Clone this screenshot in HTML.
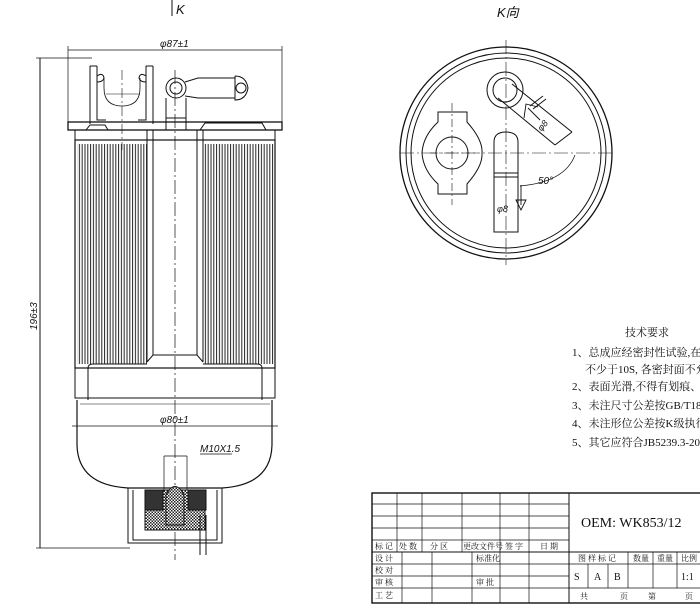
<!DOCTYPE html>
<html><head><meta charset="utf-8"><style>
html,body{margin:0;padding:0;background:#fff;}
svg{display:block;}
text{font-family:"Liberation Serif","Noto Serif CJK SC","Noto Sans CJK SC",serif;fill:#111;}
.i{font-family:"Liberation Sans",sans-serif;font-style:italic;}
</style></head><body>
<svg width="700" height="608" viewBox="0 0 700 608" xmlns="http://www.w3.org/2000/svg">
<defs>
<pattern id="pl" width="2.8" height="10" patternUnits="userSpaceOnUse">
<line x1="1" y1="0" x2="1" y2="10" stroke="#222" stroke-width="1"/>
</pattern>
<pattern id="hx" width="3" height="3" patternUnits="userSpaceOnUse">
<rect width="3" height="3" fill="#fff"/><rect width="1.5" height="1.5" fill="#222"/><rect x="1.5" y="1.5" width="1.5" height="1.5" fill="#222"/>
</pattern>
</defs>
<g stroke="#111" fill="none" stroke-width="1">
<line x1="172" y1="0" x2="172" y2="16"/>
<line x1="40" y1="58" x2="40" y2="548"/>
<line x1="36" y1="58" x2="92" y2="58" stroke-width="0.7"/>
<line x1="36" y1="548" x2="130" y2="548" stroke-width="0.7"/>
<line x1="68" y1="50" x2="282" y2="50" stroke-width="0.8"/>
<line x1="68" y1="46" x2="68" y2="125" stroke-width="0.7"/>
<line x1="282" y1="46" x2="282" y2="125" stroke-width="0.7"/>
<line x1="175" y1="70" x2="175" y2="560" stroke-dasharray="14 3 2 3" stroke-width="0.7"/>
<path d="M90 66 L90 124 M97 66 L97 120 L106 120 M90 66 L97 66 M97 76 Q103 72 104 78 Q103 82 97 82"/>
<path d="M153 66 L153 124 M146 66 L146 120 L138 120 M146 66 L153 66 M146 76 Q140 72 139 78 Q140 82 146 82"/>
<path d="M104 78 L104 88 Q104 106 122 106 Q140 106 140 88 L140 78" stroke-width="0.8"/>
<line x1="106" y1="94" x2="140" y2="94" stroke-width="0.6"/>
<line x1="122" y1="70" x2="122" y2="150" stroke-dasharray="10 3 2 3" stroke-width="0.6"/>
<circle cx="176" cy="88" r="10"/><circle cx="176" cy="88" r="6"/>
<path d="M185 82 L198 78 L235 78 M185 96 L198 98 L235 98 M235 76 L235 100 Q246 100 248 88 Q246 76 235 76"/>
<circle cx="241" cy="88" r="5"/>
<path d="M166 98 L166 130 M186 98 L186 130 M166 118 L186 118"/>
<rect x="68" y="122" width="214" height="8" stroke-width="1.3"/>
<path d="M75 130 L75 140 M275 130 L275 140 M75 140 L275 140" />
<path d="M86 130 L90 125 L105 125 L108 130 M200 130 L205 123 L262 123 L266 130"/>
<rect x="75" y="140" width="200" height="228" stroke-width="1.2"/>
<rect x="77" y="144" width="70" height="220" fill="url(#pl)" stroke="none"/>
<rect x="203" y="144" width="71" height="220" fill="url(#pl)" stroke="none"/>
<line x1="147" y1="130" x2="147" y2="362"/>
<line x1="203" y1="130" x2="203" y2="362"/>
<line x1="153" y1="130" x2="153" y2="355"/>
<line x1="197" y1="130" x2="197" y2="355"/>
<path d="M147 362 L153 355 L197 355 L203 362"/>
<path d="M88 368 L88 400 M262 368 L262 400 M88 368 Q88 364 93 364 L147 364 M203 364 L257 364 Q262 364 262 368"/>
<path d="M75 368 L75 398 L275 398 L275 368"/>
<path d="M77 400 L77 445 Q78 485 128 488 L222 488 Q271 485 272 445 L272 400" stroke-width="1.2"/>
<line x1="72" y1="426" x2="278" y2="426" stroke-width="0.7"/>
<line x1="80" y1="404" x2="270" y2="404" stroke-width="0.6"/>
<path d="M164 456 L164 490 M187 456 L187 490 M164 456 L187 456 M200 454 L232 454" stroke-width="0.7"/>
<path d="M128 488 L128 543 L222 543 L222 488 M133 490 L133 540 L217 540 L217 490"/>
<rect x="145" y="490" width="60" height="40" fill="url(#hx)"/>
<path d="M166 495 Q175 478 184 495 L184 525 L166 525 Z" fill="url(#hx)"/>
<rect x="145" y="490" width="18" height="20" fill="#333"/>
<rect x="188" y="490" width="18" height="20" fill="#333"/>
<path d="M200 515 L200 555 M206 515 L206 555"/>
<circle cx="506" cy="153" r="106" stroke-width="1.3"/>
<circle cx="506" cy="153" r="100"/>
<circle cx="506" cy="153" r="95"/>
<line x1="400" y1="153" x2="615" y2="153" stroke-dasharray="14 3 2 3" stroke-width="0.6"/>
<line x1="506" y1="40" x2="506" y2="265" stroke-dasharray="14 3 2 3" stroke-width="0.6"/>
<path d="M438 112 L467 112 L467 122 Q483 140 482 153 Q483 166 467 184 L467 194 L438 194 L438 184 Q423 170 422 153 Q423 136 438 122 Z"/>
<circle cx="452" cy="153" r="16"/>
<line x1="452" y1="103" x2="452" y2="205" stroke-dasharray="8 3 2 3" stroke-width="0.6"/>
<line x1="430" y1="153" x2="478" y2="153" stroke-dasharray="8 3 2 3" stroke-width="0.6"/>
<circle cx="505" cy="90" r="18"/><circle cx="505" cy="90" r="12"/>
<path d="M498 98 L555 145 M512 84 L572 132 M555 145 L572 132 M530 106 L543 96 M533 109 L546 99"/>
<path d="M494 232 L494 142 Q494 132 506 132 Q518 132 518 142 L518 232 Z M494 173 L518 173 M494 177 L518 177"/>
<path d="M521 205 L521 185 M516 200 L521 210 L526 200 Z" stroke-width="0.9"/>
<path d="M540 120 L528 108 M524 118 L526 104 L538 107" stroke-width="0.9"/>
<path d="M575 155 Q565 182 520 186" stroke-width="0.7"/>
<rect x="372" y="493" width="330" height="110" stroke-width="1.4"/>
<line x1="569" y1="493" x2="569" y2="603"/>
<line x1="372" y1="504" x2="569" y2="504" stroke-width="0.7"/>
<line x1="372" y1="516" x2="569" y2="516" stroke-width="0.7"/>
<line x1="372" y1="528" x2="569" y2="528" stroke-width="0.7"/>
<line x1="372" y1="540" x2="569" y2="540" stroke-width="0.7"/>
<line x1="372" y1="552" x2="700" y2="552"/>
<line x1="372" y1="564" x2="700" y2="564" stroke-width="0.7"/>
<line x1="372" y1="576" x2="569" y2="576" stroke-width="0.7"/>
<line x1="372" y1="588" x2="700" y2="588" stroke-width="0.7"/>
<g stroke-width="0.7">
<line x1="397" y1="493" x2="397" y2="552"/><line x1="422" y1="493" x2="422" y2="552"/>
<line x1="462" y1="493" x2="462" y2="552"/><line x1="500" y1="493" x2="500" y2="603"/>
<line x1="529" y1="493" x2="529" y2="603"/>
<line x1="402" y1="552" x2="402" y2="603"/><line x1="432" y1="552" x2="432" y2="603"/>
<line x1="472" y1="552" x2="472" y2="603"/>
<line x1="628" y1="552" x2="628" y2="588"/><line x1="653" y1="552" x2="653" y2="588"/>
<line x1="677" y1="552" x2="677" y2="588"/>
<line x1="588" y1="564" x2="588" y2="588"/><line x1="608" y1="564" x2="608" y2="588"/>
</g>
</g>
<g font-size="10">
<text x="176" y="14" class="i" font-size="13">K</text>
<text x="497" y="17" class="i" font-size="13">K向</text>
<text x="160" y="47" class="i">φ87±1</text>
<text x="160" y="423" class="i">φ80±1</text>
<text x="200" y="452" class="i">M10X1.5</text>
<text x="37" y="330" class="i" transform="rotate(-90 37 330)">196±3</text>
<text x="538" y="184" class="i">50°</text>
<text x="497" y="212" class="i" font-size="9">φ8</text>
<text x="537" y="130" class="i" font-size="9" transform="rotate(-50 541 126)">φ8</text>
</g>
<g font-size="11">
<text x="625" y="336">技术要求</text>
<text x="572" y="356">1、总成应经密封性试验,在40</text>
<text x="585" y="373">不少于10S, 各密封面不允</text>
<text x="572" y="390">2、表面光滑,不得有划痕、磕</text>
<text x="572" y="409">3、未注尺寸公差按GB/T1804-</text>
<text x="572" y="427">4、未注形位公差按K级执行</text>
<text x="572" y="446">5、其它应符合JB5239.3-2016</text>
</g>
<text x="581" y="527" font-size="14">OEM: WK853/12</text>
<g font-size="8">
<text x="375" y="549">标 记</text><text x="399" y="549">处 数</text><text x="430" y="549">分 区</text>
<text x="463" y="549">更改文件号</text><text x="505" y="549">签 字</text><text x="540" y="549">日 期</text>
<text x="375" y="561">设 计</text><text x="375" y="573">校 对</text><text x="375" y="585">审 核</text><text x="375" y="598">工 艺</text>
<text x="476" y="561">标准化</text><text x="476" y="585">审 批</text>
<text x="578" y="561">图 样 标 记</text><text x="633" y="561">数量</text><text x="657" y="561">重量</text><text x="681" y="561">比例</text>
<text x="574" y="580" font-size="10">S</text><text x="594" y="580" font-size="10">A</text><text x="614" y="580" font-size="10">B</text>
<text x="681" y="580" font-size="10">1:1</text>
<text x="580" y="599">共</text><text x="620" y="599">页</text><text x="648" y="599">第</text><text x="685" y="599">页</text>
</g>
</svg>
</body></html>
